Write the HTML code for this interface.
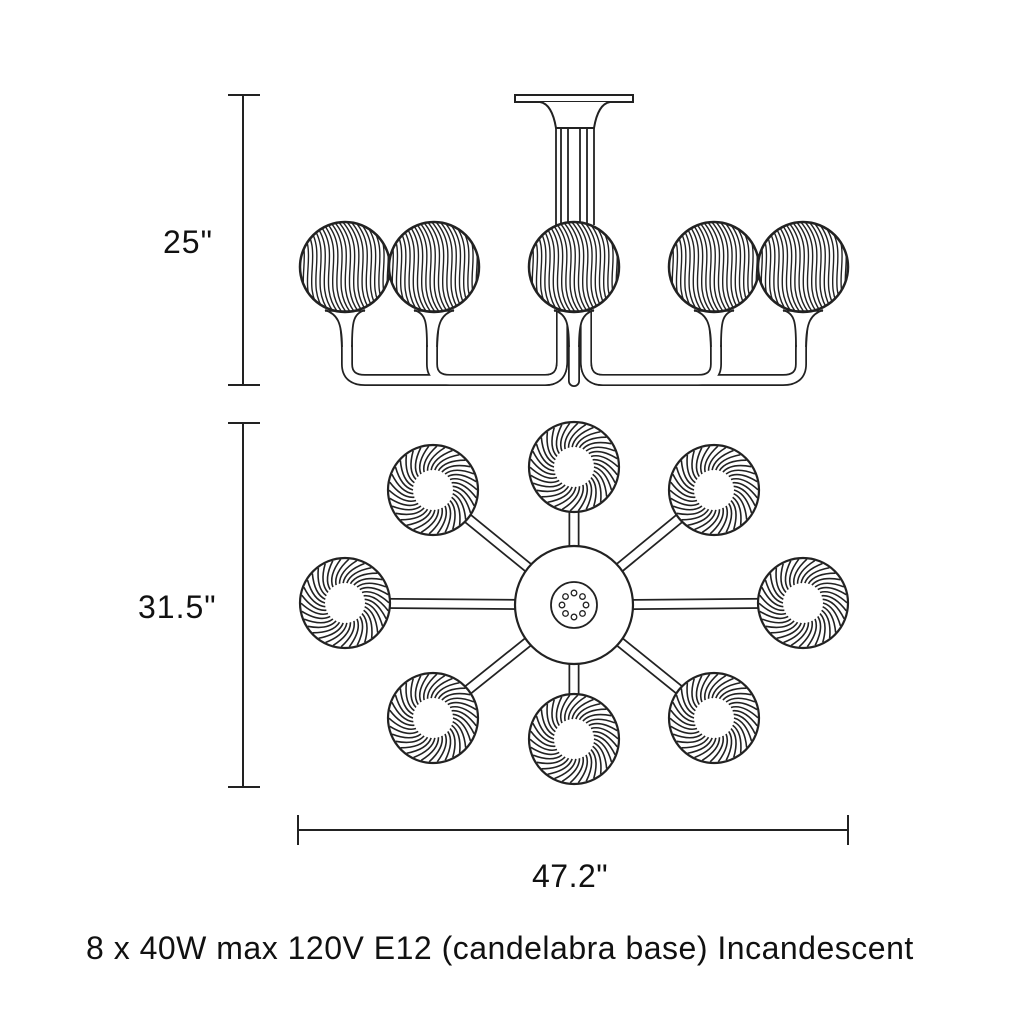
<!DOCTYPE html>
<html><head><meta charset="utf-8"><style>
html,body{margin:0;padding:0;background:#fff}
body{width:1024px;height:1024px;position:relative;overflow:hidden;font-family:"Liberation Sans",sans-serif;color:#111}
.t{position:absolute;font-size:32px;white-space:nowrap}
</style></head><body>
<svg id="s" width="1024" height="1024" style="position:absolute;left:0;top:0" xmlns="http://www.w3.org/2000/svg"></svg>
<div class="t" style="left:163px;top:224px;letter-spacing:1px">25"</div>
<div class="t" style="left:138px;top:589px;letter-spacing:1px">31.5"</div>
<div class="t" style="left:532px;top:858px;letter-spacing:0.5px">47.2"</div>
<div class="t" style="left:86px;top:930px;letter-spacing:0.5px">8 x 40W max 120V E12 (candelabra base) Incandescent</div>
<script>
var s=document.getElementById('s'),h='';
function L(a,b,c,d,w){h+='<line x1="'+a+'" y1="'+b+'" x2="'+c+'" y2="'+d+'" stroke="#222" stroke-width="'+(w||2)+'"/>';}
L(243,95,243,385);L(228,95,260,95);L(228,385,260,385);
L(243,423,243,787);L(228,423,260,423);L(228,787,260,787);
L(298,830,848,830);L(298,815,298,845);L(848,815,848,845);
h+='<rect x="515" y="95" width="118" height="7" fill="#fff" stroke="#222" stroke-width="2"/>';
h+='<path d="M540,102 Q552,104 556,128 L594,128 Q598,104 610,102" fill="#fff" stroke="#222" stroke-width="2"/>';
[556,561,568,580,587,594].forEach(function(x){L(x,128,x,225,1.8);});
var arms=['M345,311 C345,330 347,335 347,350 L347,364 Q347,380 365,380 L545,380 Q562,380 562,362 L562,300',
'M434,311 C434,330 432,335 432,350 L432,364 Q432,380 450,380 L545,380 Q562,380 562,362 L562,300',
'M803,311 C803,330 801,335 801,350 L801,364 Q801,380 783,380 L603,380 Q586,380 586,362 L586,300',
'M714,311 C714,330 716,335 716,350 L716,364 Q716,380 698,380 L603,380 Q586,380 586,362 L586,300',
'M574,300 C574,330 574,340 574,381'];
arms.forEach(function(p){h+='<path d="'+p+'" fill="none" stroke="#222" stroke-width="12" stroke-linecap="round"/>';});
arms.forEach(function(p){h+='<path d="'+p+'" fill="none" stroke="#fff" stroke-width="8.5" stroke-linecap="round"/>';});
[[345,347],[434,432],[574,574],[714,716],[803,801]].forEach(function(n){var c=n[0],b=n[1];
 var d='M'+(c-20)+',310 C'+(c-8)+',314 '+(b-5)+',322 '+(b-5)+',345 L'+(b+5)+',345 C'+(b+5)+',322 '+(c+8)+',314 '+(c+20)+',310 Z';
 h+='<path d="'+d+'" fill="#fff"/>';
 h+='<path d="M'+(c-20)+',310 C'+(c-8)+',314 '+(b-5)+',322 '+(b-5)+',347" fill="none" stroke="#222" stroke-width="1.8"/>';
 h+='<path d="M'+(c+20)+',310 C'+(c+8)+',314 '+(b+5)+',322 '+(b+5)+',347" fill="none" stroke="#222" stroke-width="1.8"/>';
});
[345,434,574,714,803].forEach(function(cx,i){var cy=267,r=45;
 h+='<clipPath id="c'+i+'"><circle cx="'+cx+'" cy="'+cy+'" r="'+r+'"/></clipPath>';
 h+='<circle cx="'+cx+'" cy="'+cy+'" r="'+r+'" fill="#fff"/>';
 h+='<g clip-path="url(#c'+i+')" fill="none" stroke="#222" stroke-width="1.4">';
 for(var k=-70;k<=70;k+=4.2){h+='<path d="M'+(cx+k-12)+','+(cy-r)+' C'+(cx+k+14)+','+(cy-15)+' '+(cx+k-14)+','+(cy+15)+' '+(cx+k+8)+','+(cy+r)+'"/>';}
 h+='</g><circle cx="'+cx+'" cy="'+cy+'" r="'+r+'" fill="none" stroke="#222" stroke-width="2.5"/>';
 L(cx-20,311,cx+20,311,1.5);
});
var C=[574,605],G=[[574,467],[433,490],[714,490],[345,603],[803,603],[433,718],[714,718],[574,739]];
G.forEach(function(g){L(C[0],C[1],g[0],g[1],11);});
G.forEach(function(g){h+='<line x1="'+C[0]+'" y1="'+C[1]+'" x2="'+g[0]+'" y2="'+g[1]+'" stroke="#fff" stroke-width="7.5"/>';});
h+='<circle cx="574" cy="605" r="59" fill="#fff" stroke="#222" stroke-width="2.2"/>';
h+='<circle cx="574" cy="605" r="23" fill="#fff" stroke="#222" stroke-width="1.8"/>';
for(var i=0;i<8;i++){var a=i*Math.PI/4;h+='<circle cx="'+(574+12*Math.cos(a))+'" cy="'+(605+12*Math.sin(a))+'" r="2.8" fill="#fff" stroke="#222" stroke-width="1.3"/>';}
G.forEach(function(g){var cx=g[0],cy=g[1];
 h+='<circle cx="'+cx+'" cy="'+cy+'" r="45" fill="#fff" stroke="#222" stroke-width="2.2"/>';
 h+='<g fill="none" stroke="#222" stroke-width="1.6">';
 for(var j=0;j<34;j++){var a=j*2*Math.PI/34,r1=20,r2=44,b=a+0.55,m=a+0.1,rm=32;
  h+='<path d="M'+(cx+r1*Math.cos(a))+','+(cy+r1*Math.sin(a))+' Q'+(cx+rm*Math.cos(m))+','+(cy+rm*Math.sin(m))+' '+(cx+r2*Math.cos(b))+','+(cy+r2*Math.sin(b))+'"/>';}
 h+='</g>';
});
s.innerHTML=h;
</script>
</body></html>
